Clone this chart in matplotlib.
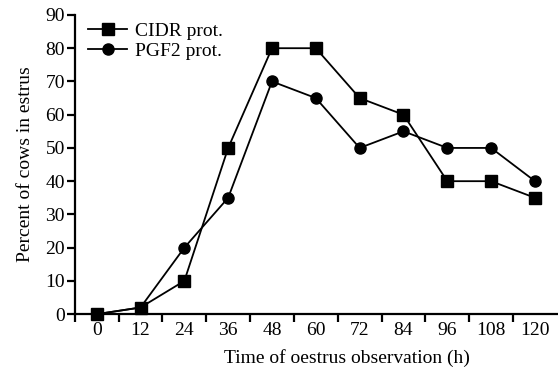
import matplotlib
matplotlib.use("Agg")
import matplotlib.pyplot as plt

hours = ["0", "12", "24", "36", "48", "60", "72", "84", "96", "108", "120"]
cidr = [0, 2, 10, 50, 80, 80, 65, 60, 40, 40, 35]
pgf2 = [0, 2, 20, 35, 70, 65, 50, 55, 50, 50, 40]

plt.rcParams['font.family'] = ['Liberation Serif', 'DejaVu Serif']
fig = plt.figure(figsize=(5.58, 3.74), dpi=100)
ax = fig.add_axes([0.134, 0.160, 0.864, 0.800])

x = list(range(len(hours)))
ax.plot(x, cidr, color='black', lw=1.3, marker='s', ms=8, clip_on=False, label='CIDR prot.', zorder=3)
ax.plot(x, pgf2, color='black', lw=1.3, marker='o', ms=8, clip_on=False, label='PGF2 prot.', zorder=3)

ax.set_xlim(-0.5, 10.5)
ax.set_ylim(0, 90)
ax.set_yticks(range(0, 91, 10))
ax.set_xticks([i - 0.5 for i in x])
ax.set_xticklabels([])
ax.set_xticks(x, minor=True)
ax.set_xticklabels(hours, minor=True)
ax.tick_params(axis='x', which='minor', length=0, labelsize=14, pad=6)
ax.tick_params(axis='x', which='major', length=6, width=1.6, direction='out')
ax.tick_params(axis='y', length=6, width=1.6, labelsize=14, pad=1)
for s in ['top', 'right']:
    ax.spines[s].set_visible(False)
for s in ['left', 'bottom']:
    ax.spines[s].set_linewidth(1.6)

ax.set_ylabel('Percent of cows in estrus', fontsize=14, labelpad=8)
ax.set_xlabel('Time of oestrus observation (h)', fontsize=14)
ax.xaxis.set_label_coords(0.564, -0.115)

ax.legend(loc='upper left', bbox_to_anchor=(0.0, 1.02), frameon=False, fontsize=14,
          handlelength=2.0, handletextpad=0.4, labelspacing=0.1, borderaxespad=0.3)

fig.savefig('out.png', dpi=100)
